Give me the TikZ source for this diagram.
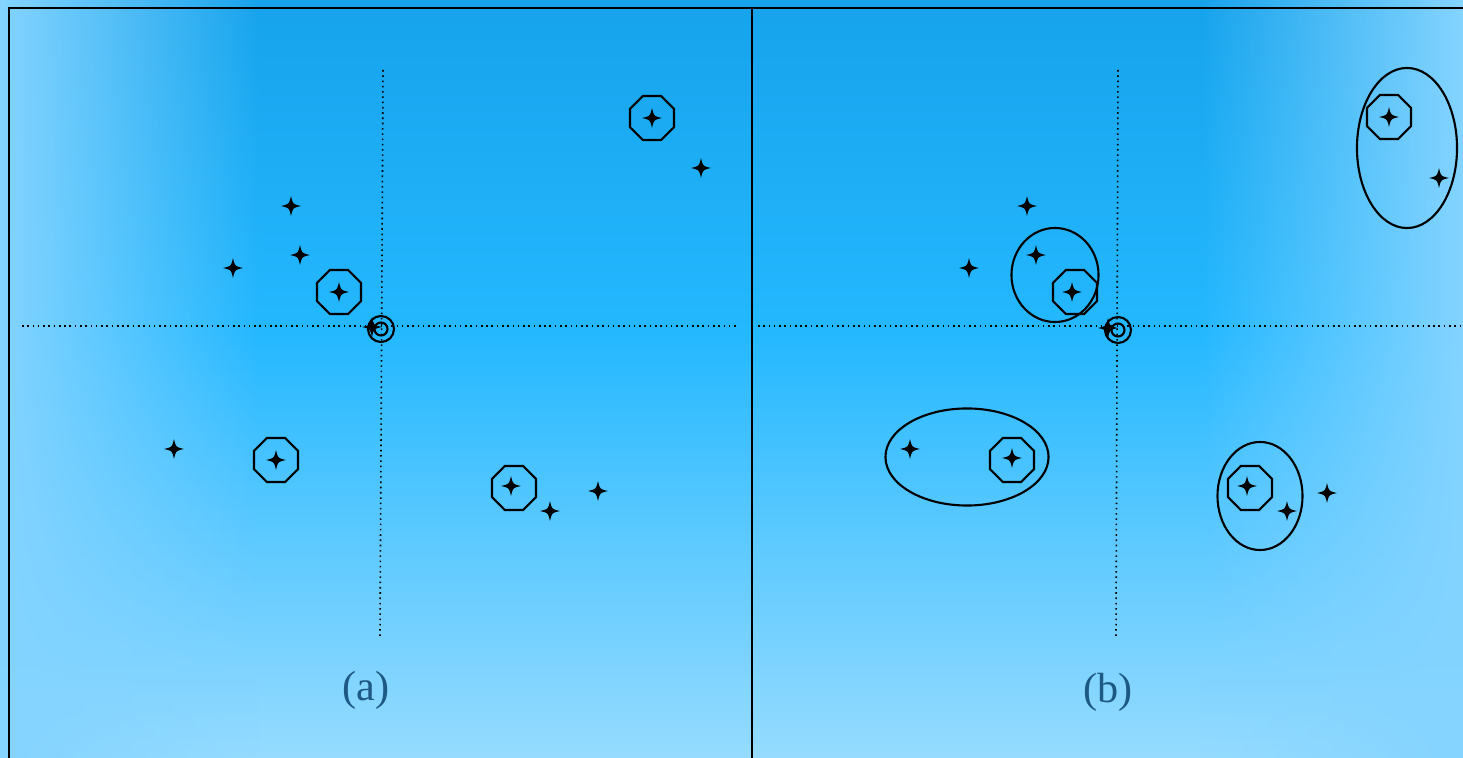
\documentclass[tikz,border=0pt]{standalone}
\usepackage{fontspec}
\setmainfont{Liberation Serif}
\usepackage{tikz}
\usetikzlibrary{shapes.geometric, fadings}

\definecolor{bgtop}{RGB}{22,163,236}
\definecolor{bgmid}{RGB}{36,184,255}
\definecolor{bgfoot}{RGB}{150,219,255}
\definecolor{bgedge}{RGB}{132,212,255}
\definecolor{labelblue}{RGB}{30,88,132}

\tikzfading[name=fromleft, left color=transparent!0, right color=transparent!100]
\tikzfading[name=fromright, left color=transparent!100, right color=transparent!0]

\begin{document}
\begin{tikzpicture}[
    x=0.01cm, y=-0.01cm,
    spark/.pic={\fill (0,-10) .. controls (1.8,-1.8) .. (10,0) .. controls (1.8,1.8) .. (0,10)
        .. controls (-1.8,1.8) .. (-10,0) .. controls (-1.8,-1.8) .. (0,-10) -- cycle;},
    octa/.style={regular polygon, regular polygon sides=8, minimum size=0.476cm, inner sep=0pt, draw, line width=0.6pt},
    clus/.style={ellipse, draw, line width=0.6pt, inner sep=0pt},
    ring/.style={circle, draw, line width=0.6pt, inner sep=0pt},
    axisline/.style={line width=0.45pt, dash pattern=on 0.45pt off 1.05pt},
    frame/.style={line width=0.6pt},
    panellabel/.style={font=\fontsize{12}{14}\selectfont, text=labelblue},
]
    \useasboundingbox (0,0) rectangle (1463,758);

    % background
    \shade[top color=bgtop, bottom color=bgmid] (0,0) rectangle (1463,331);
    \shade[top color=bgmid, bottom color=bgfoot] (0,330) rectangle (1463,758);
    \fill[bgedge, path fading=fromleft] (0,0) rectangle (260,758);
    \fill[bgedge, path fading=fromright] (1200,0) rectangle (1463,758);

    \draw[frame] (9,758) -- (9,8) -- (1463,8);
    \draw[frame] (752,8) -- (752,758);

    % panel (a)
    \coordinate (aW) at (22,326);
    \coordinate (aE) at (737,326);
    \coordinate (aN) at (383,70);
    \coordinate (aS) at (380,636);
    \draw[axisline] (aW) -- (aE);
    \draw[axisline] (aN) -- (aS);

    \node[ring, minimum size=0.26cm] (ao) at (381,329) {};
    \node[ring, minimum size=0.13cm] (aoi) at (381,329) {};
    \pic (a0) at (372,327) {spark};

    \node[octa] (ac1) at (652,118) {};
    \pic (a1) at (652,118) {spark};
    \pic (a2) at (701,168) {spark};
    \pic (a3) at (291,206) {spark};
    \pic (a4) at (300,255) {spark};
    \pic (a5) at (233,268) {spark};
    \node[octa] (ac6) at (339,292) {};
    \pic (a6) at (339,292) {spark};
    \pic (a7) at (174,449) {spark};
    \node[octa] (ac8) at (276,460) {};
    \pic (a8) at (276,460) {spark};
    \node[octa] (ac9) at (514,488) {};
    \pic (a9) at (511,486) {spark};
    \pic (a10) at (598,491) {spark};
    \pic (a11) at (550,511) {spark};

    \node[panellabel] (capa) at (366,690) {(a)};

    % panel (b)
    \coordinate (bW) at (758,326);
    \coordinate (bE) at (1463,326);
    \coordinate (bN) at (1118,70);
    \coordinate (bS) at (1116,636);
    \draw[axisline] (bW) -- (bE);
    \draw[axisline] (bN) -- (bS);

    \node[ring, minimum size=0.26cm] (bo) at (1118,330) {};
    \node[ring, minimum size=0.13cm] (boi) at (1118,330) {};
    \pic (b0) at (1108,328) {spark};

    \node[octa] (bc1) at (1389,117) {};
    \pic (b1) at (1389,117) {spark};
    \pic (b2) at (1439,178) {spark};
    \pic (b3) at (1027,206) {spark};
    \pic (b4) at (1036,255) {spark};
    \pic (b5) at (969,268) {spark};
    \node[octa] (bc6) at (1075,292) {};
    \pic (b6) at (1072,292) {spark};
    \pic (b7) at (910,449) {spark};
    \node[octa] (bc8) at (1012,460) {};
    \pic (b8) at (1012,458) {spark};
    \node[octa] (bc9) at (1250,488) {};
    \pic (b9) at (1247,486) {spark};
    \pic (b10) at (1327,493) {spark};
    \pic (b11) at (1287,511) {spark};

    \node[clus, minimum width=1.00cm, minimum height=1.60cm] (g1) at (1407,148) {};
    \node[clus, minimum width=0.87cm, minimum height=0.94cm] (g2) at (1055,275) {};
    \node[clus, minimum width=1.63cm, minimum height=0.97cm] (g3) at (967,457) {};
    \node[clus, minimum width=0.85cm, minimum height=1.08cm] (g4) at (1260,496) {};

    \node[panellabel] (capb) at (1108,692) {(b)};
\end{tikzpicture}
\end{document}
